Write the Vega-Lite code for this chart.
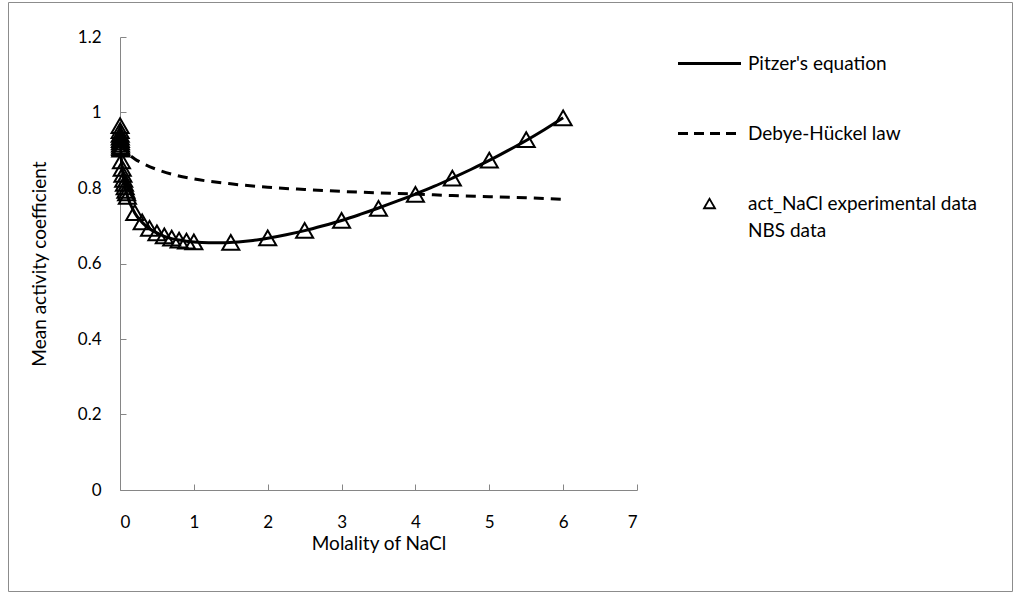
{
  "$schema": "https://vega.github.io/schema/vega-lite/v6.json",
  "width": 1004,
  "height": 589,
  "autosize": {"type": "none"},
  "padding": {"left": 8, "top": 2, "right": 7, "bottom": 8},
  "background": "white",
  "config": {
    "view": {"stroke": "#8c8c8c", "strokeWidth": 1},
    "font": "Lato",
    "axis": {
      "domainColor": "#868686",
      "tickColor": "#868686",
      "grid": false,
      "labelFont": "Lato",
      "labelFontSize": 17,
      "labelColor": "#000000",
      "titleFont": "Lato",
      "titleFontSize": 19,
      "titleFontWeight": "normal",
      "titleColor": "#000000"
    }
  },
  "datasets": {
    "exp": [
      {"m": 0.001, "g": 0.965}, {"m": 0.002, "g": 0.952}, {"m": 0.003, "g": 0.942},
      {"m": 0.004, "g": 0.935}, {"m": 0.005, "g": 0.928}, {"m": 0.006, "g": 0.922},
      {"m": 0.007, "g": 0.916}, {"m": 0.008, "g": 0.911}, {"m": 0.009, "g": 0.907},
      {"m": 0.01, "g": 0.903}, {"m": 0.02, "g": 0.872}, {"m": 0.03, "g": 0.852},
      {"m": 0.04, "g": 0.836}, {"m": 0.05, "g": 0.823}, {"m": 0.06, "g": 0.812},
      {"m": 0.07, "g": 0.803}, {"m": 0.08, "g": 0.794}, {"m": 0.09, "g": 0.787},
      {"m": 0.1, "g": 0.778}, {"m": 0.2, "g": 0.735}, {"m": 0.3, "g": 0.71},
      {"m": 0.4, "g": 0.693}, {"m": 0.5, "g": 0.681}, {"m": 0.6, "g": 0.673},
      {"m": 0.7, "g": 0.667}, {"m": 0.8, "g": 0.662}, {"m": 0.9, "g": 0.659},
      {"m": 1.0, "g": 0.657}, {"m": 1.5, "g": 0.656}, {"m": 2.0, "g": 0.668},
      {"m": 2.5, "g": 0.688}, {"m": 3.0, "g": 0.714}, {"m": 3.5, "g": 0.746},
      {"m": 4.0, "g": 0.783}, {"m": 4.5, "g": 0.826}, {"m": 5.0, "g": 0.874},
      {"m": 5.5, "g": 0.928}, {"m": 6.0, "g": 0.986}
    ],
    "pitzer": [
      {"m": 0.001, "g": 0.965}, {"m": 0.005, "g": 0.928}, {"m": 0.01, "g": 0.903},
      {"m": 0.02, "g": 0.872}, {"m": 0.05, "g": 0.822}, {"m": 0.1, "g": 0.779},
      {"m": 0.2, "g": 0.734}, {"m": 0.3, "g": 0.709}, {"m": 0.4, "g": 0.692},
      {"m": 0.5, "g": 0.681}, {"m": 0.6, "g": 0.672}, {"m": 0.7, "g": 0.666},
      {"m": 0.8, "g": 0.662}, {"m": 0.9, "g": 0.659}, {"m": 1.0, "g": 0.657},
      {"m": 1.2, "g": 0.655}, {"m": 1.4, "g": 0.655}, {"m": 1.6, "g": 0.657},
      {"m": 1.8, "g": 0.661}, {"m": 2.0, "g": 0.667}, {"m": 2.25, "g": 0.676},
      {"m": 2.5, "g": 0.687}, {"m": 2.75, "g": 0.7}, {"m": 3.0, "g": 0.714},
      {"m": 3.25, "g": 0.73}, {"m": 3.5, "g": 0.747}, {"m": 3.75, "g": 0.765},
      {"m": 4.0, "g": 0.784}, {"m": 4.25, "g": 0.804}, {"m": 4.5, "g": 0.826},
      {"m": 4.75, "g": 0.849}, {"m": 5.0, "g": 0.873}, {"m": 5.25, "g": 0.899},
      {"m": 5.5, "g": 0.926}, {"m": 5.75, "g": 0.955}, {"m": 6.0, "g": 0.986}
    ],
    "dh": [
      {"m": 0.001, "g": 0.965}, {"m": 0.01, "g": 0.93}, {"m": 0.05, "g": 0.905},
      {"m": 0.1, "g": 0.893}, {"m": 0.2, "g": 0.877}, {"m": 0.3, "g": 0.866},
      {"m": 0.5, "g": 0.849}, {"m": 0.75, "g": 0.834}, {"m": 1.0, "g": 0.824},
      {"m": 1.5, "g": 0.811}, {"m": 2.0, "g": 0.802}, {"m": 2.5, "g": 0.796},
      {"m": 3.0, "g": 0.791}, {"m": 3.5, "g": 0.787}, {"m": 4.0, "g": 0.784},
      {"m": 4.5, "g": 0.780}, {"m": 5.0, "g": 0.777}, {"m": 5.5, "g": 0.774},
      {"m": 6.0, "g": 0.770}
    ]
  },
  "encoding": {
    "x": {
      "field": "m", "type": "quantitative",
      "scale": {"domain": [0, 7], "range": [112, 629], "nice": false, "zero": false},
      "axis": {
        "title": "Molality of NaCl", "orient": "bottom", "offset": -101,
        "values": [0, 1, 2, 3, 4, 5, 6, 7], "format": "d",
        "tickSize": -6, "labelPadding": 30, "titlePadding": 4
      }
    },
    "y": {
      "field": "g", "type": "quantitative",
      "scale": {"domain": [0, 1.2], "range": [488, 35], "nice": false, "zero": false},
      "axis": {
        "title": "Mean activity coefficient", "orient": "left", "offset": -112,
        "values": [0, 0.2, 0.4, 0.6, 0.8, 1, 1.2], "labelExpr": "datum.value == 0 ? '0' : datum.value == 1 ? '1' : format(datum.value, '.1f')",
        "tickSize": -6, "labelPadding": 25, "titlePadding": 28
      }
    },
    "color": {
      "field": "series", "type": "nominal",
      "scale": {
        "domain": ["Pitzer's equation", "Debye-Hückel law", "act_NaCl experimental data"],
        "range": ["#000000", "#000000", "#000000"]
      },
      "legend": {
        "title": null,
        "orient": "none",
        "legendX": 692,
        "legendY": 52,
        "symbolSize": 3969,
        "symbolType": "stroke",
        "symbolStrokeWidth": 3,
        "labelFont": "Lato",
        "labelFontSize": 19,
        "labelColor": "#000000",
        "labelOffset": 29,
        "labelLimit": 400,
        "rowPadding": 50,
        "labelExpr": "datum.label == 'act_NaCl experimental data' ? ['act_NaCl experimental data', 'NBS data'] : datum.label",
        "encode": {
          "labels": {"update": {"lineHeight": {"value": 27}}},
          "symbols": {
            "update": {
              "shape": {"signal": "datum.value === 'act_NaCl experimental data' ? 'triangle-up' : 'stroke'"},
              "size": {"signal": "datum.value === 'act_NaCl experimental data' ? 120 : 3969"},
              "strokeDash": {"signal": "datum.value === 'Debye-Hückel law' ? [10, 6] : [1, 0]"},
              "strokeWidth": {"signal": "datum.value === 'act_NaCl experimental data' ? 1.8 : 3"},
              "stroke": {"value": "#000000"},
              "fill": {"value": "transparent"},
              "opacity": {"value": 1}
            }
          }
        }
      }
    }
  },
  "layer": [
    {
      "data": {"name": "pitzer"},
      "transform": [{"calculate": "\"Pitzer's equation\"", "as": "series"}],
      "mark": {"type": "line", "strokeWidth": 3, "interpolate": "monotone"}
    },
    {
      "data": {"name": "dh"},
      "transform": [{"calculate": "'Debye-Hückel law'", "as": "series"}],
      "mark": {"type": "line", "strokeWidth": 3, "strokeDash": [10, 7], "interpolate": "monotone"}
    },
    {
      "data": {"name": "exp"},
      "transform": [{"calculate": "'act_NaCl experimental data'", "as": "series"}],
      "mark": {"type": "point", "shape": "triangle-up", "filled": false, "size": 290, "strokeWidth": 2, "opacity": 1}
    }
  ]
}
